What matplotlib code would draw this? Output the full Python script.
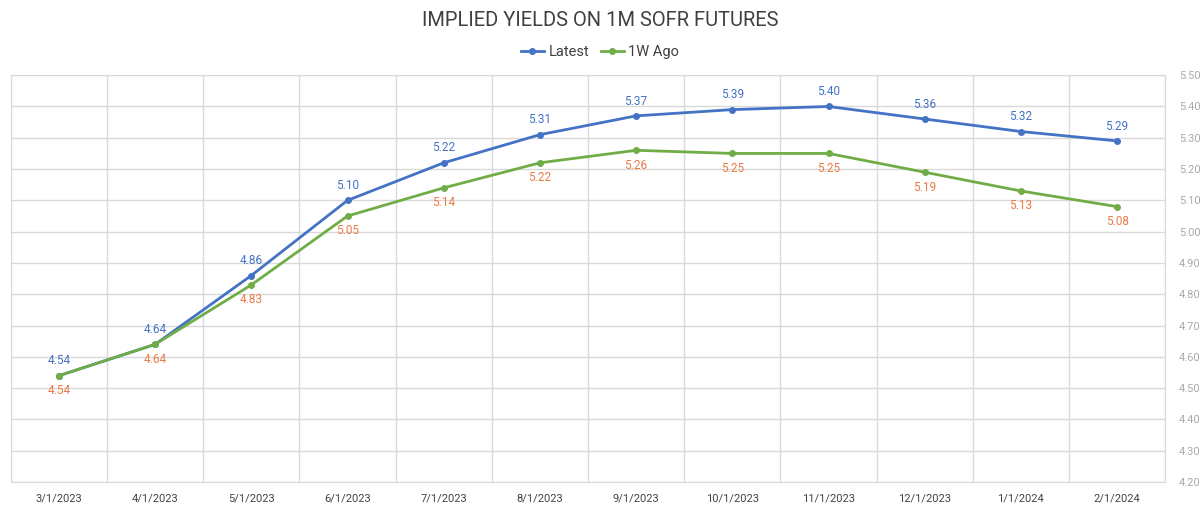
import numpy as np
import matplotlib
matplotlib.use("Agg")
import matplotlib.pyplot as plt

# --- DATA ---
dates = ['3/1/2023', '4/1/2023', '5/1/2023', '6/1/2023', '7/1/2023', '8/1/2023',
         '9/1/2023', '10/1/2023', '11/1/2023', '12/1/2023', '1/1/2024', '2/1/2024']
latest = [4.54, 4.64, 4.86, 5.10, 5.22, 5.31, 5.37, 5.39, 5.40, 5.36, 5.32, 5.29]
week_ago = [4.54, 4.64, 4.83, 5.05, 5.14, 5.22, 5.26, 5.25, 5.25, 5.19, 5.13, 5.08]
yticks = [4.20, 4.30, 4.40, 4.50, 4.60, 4.70, 4.80, 4.90, 5.00, 5.10, 5.20, 5.30, 5.40, 5.50]

# --- STYLE ---
plt.rcParams['font.family'] = ['Roboto', 'DejaVu Sans']
blue = '#4472C4'
green = '#70AD47'
orange = '#EB7A45'
grid_c = '#d9d9d9'

fig = plt.figure(figsize=(12, 5.08), dpi=100)
ax = fig.add_axes([0.009, 0.051, 0.962, 0.801])

x = np.arange(len(dates))
ax.plot(x, latest, color=blue, lw=2, marker='o', ms=4, label='Latest', zorder=3)
ax.plot(x, week_ago, color=green, lw=2, marker='o', ms=4, label='1W Ago', zorder=3)

for i in range(len(x)):
    ax.annotate(f"{latest[i]:.2f}", (x[i], latest[i]), xytext=(0, 6),
                textcoords='offset points', ha='center', va='bottom',
                color=blue, fontsize=8.5)
    ax.annotate(f"{week_ago[i]:.2f}", (x[i], week_ago[i]), xytext=(0, -6),
                textcoords='offset points', ha='center', va='top',
                color=orange, fontsize=8.5)

ax.set_xlim(-0.5, len(dates) - 0.5)
ax.set_ylim(4.20, 5.50)
ax.set_xticks(x)
ax.set_xticklabels(dates, fontsize=8, color='#444444')
ax.set_xticks(np.arange(-0.5, len(dates), 1), minor=True)
ax.set_yticks(yticks)
ax.set_yticklabels([f"{v:.2f}" for v in yticks], fontsize=8, color='#aaaaaa')
ax.yaxis.tick_right()
ax.tick_params(axis='both', which='both', length=0)
ax.tick_params(axis='y', pad=10)
ax.tick_params(axis='x', pad=8)
ax.grid(axis='y', color=grid_c, lw=1)
ax.grid(axis='x', which='minor', color=grid_c, lw=1)
for s in ax.spines.values():
    s.set_color(grid_c)

fig.text(0.5, 0.96, 'IMPLIED YIELDS ON 1M SOFR FUTURES', ha='center', va='center',
         fontsize=14.5, color='#404040')
fig.legend(loc='center', bbox_to_anchor=(0.5, 0.897), ncol=2, frameon=False,
           fontsize=10.5, handlelength=1.6, columnspacing=0.8, handletextpad=0.3,
           labelcolor='#404040')

fig.savefig('out.png', dpi=100)
